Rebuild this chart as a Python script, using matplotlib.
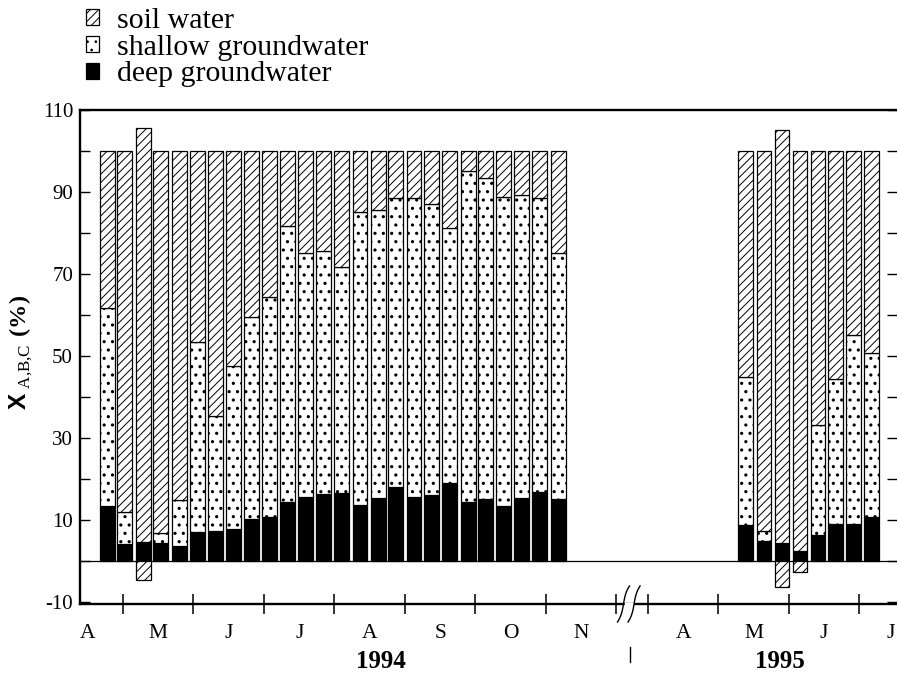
import numpy as np
import matplotlib
matplotlib.use('Agg')
import matplotlib.pyplot as plt
from matplotlib.patches import Patch
from matplotlib import transforms

# sampling times in months after 1 April of each year, and fractions (%)
t_1994 = [0.78, 1.02, 1.29, 1.53, 1.80, 2.06, 2.31, 2.57, 2.82, 3.08, 3.33, 3.59, 3.84,
          4.10, 4.36, 4.62, 4.87, 5.13, 5.38, 5.63, 5.90, 6.14, 6.40, 6.65, 6.91, 7.18]
deep_1994 = [13.5, 4.1, 4.7, 4.4, 3.7, 7.1, 7.4, 7.9, 10.2, 10.6, 14.3, 15.5, 16.3,
             16.5, 13.7, 15.3, 18.1, 15.5, 16.1, 19.0, 14.3, 15.1, 13.5, 15.3, 16.8, 15.1]
shallow_1994 = [48.3, 7.9, -4.7, 2.4, 11.2, 46.3, 27.9, 39.6, 49.4, 53.9, 67.4, 59.5,
                59.3, 55.2, 71.4, 70.3, 70.4, 73.0, 70.9, 62.1, 80.9, 78.4, 75.4, 74.0,
                71.7, 59.9]
soil_1994 = [38.2, 88.0, 100.9, 93.2, 85.1, 46.6, 64.7, 52.5, 40.4, 35.5, 18.3, 25.0,
             24.4, 28.3, 14.9, 14.4, 11.5, 11.5, 13.0, 18.9, 4.8, 6.5, 11.1, 10.7, 11.5, 25.0]

t_1995 = [1.38, 1.645, 1.90, 2.156, 2.41, 2.66, 2.915, 3.17]
deep_1995 = [8.7, 4.9, 4.3, 2.4, 6.3, 9.0, 9.1, 10.7]
shallow_1995 = [36.2, 2.5, -6.4, -2.7, 26.8, 35.3, 46.0, 40.0]
soil_1995 = [55.1, 92.6, 100.9, 97.6, 66.9, 55.7, 44.9, 49.3]

month_labels_1994 = ['A', 'M', 'J', 'J', 'A', 'S', 'O', 'N']
month_labels_1995 = ['A', 'M', 'J', 'J']

plt.rcParams['font.family'] = ['Liberation Serif', 'DejaVu Serif']
plt.rcParams['mathtext.fontset'] = 'custom'
plt.rcParams['mathtext.rm'] = 'Liberation Serif'
plt.rcParams['mathtext.bf'] = 'Liberation Serif:bold'
plt.rcParams['mathtext.sf'] = 'Liberation Sans:bold'
plt.rcParams['axes.unicode_minus'] = False
plt.rcParams['hatch.linewidth'] = 0.7

OFFSET_1995 = 8.447  # axis position of 1 Apr 1995 (axis is broken Dec-Mar)

x = np.array(t_1994 + [OFFSET_1995 + v for v in t_1995])
deep = np.array(deep_1994 + deep_1995)
shallow = np.array(shallow_1994 + shallow_1995)
soil = np.array(soil_1994 + soil_1995)
sh_pos = np.clip(shallow, 0, None)
sh_neg = np.clip(shallow, None, 0)

fig = plt.figure(figsize=(8.97, 6.73), dpi=100)
ax = fig.add_axes([80 / 897, 1 - 604 / 673, 817 / 897, 494 / 673])

w = 0.208
ax.axhline(0, color='black', lw=0.9, zorder=1)
ax.bar(x, deep, w, color='black', edgecolor='black', lw=0.9, zorder=2)
with plt.rc_context({'hatch.linewidth': 1.1}):
    ax.bar(x, sh_pos, w, bottom=deep, color='white', edgecolor='black', lw=0.9,
           hatch='..', zorder=2)
ax.bar(x, soil, w, bottom=deep + sh_pos, color='white', edgecolor='black', lw=0.9,
       hatch='////', zorder=2)
neg = sh_neg < 0
ax.bar(x[neg], sh_neg[neg], w, color='white', edgecolor='black', lw=0.9,
       hatch='////', zorder=2)

ax.set_xlim(0.39, 11.98)
ax.set_ylim(-10.5, 110)

# y axis
ax.set_yticks(np.arange(-10, 111, 20))
ax.set_yticks(np.arange(0, 101, 20), minor=True)
ax.tick_params(axis='y', which='both', direction='in', length=7, width=1.0,
               left=True, right=True, labelsize=15, pad=5)

# x axis: month boundaries as ticks, month initials in between
edges = list(range(1, 9)) + [OFFSET_1995 + k for k in range(4)]
centers = [i + 0.5 for i in range(8)] + [OFFSET_1995 + 0.5 + k for k in range(3)]
centers.append(OFFSET_1995 + 3.44)  # last July label pulled in so it stays on the page
ax.set_xticks(edges)
ax.set_xticklabels([])
ax.set_xticks(centers, minor=True)
ax.set_xticklabels(month_labels_1994 + month_labels_1995, minor=True)
ax.tick_params(axis='x', which='major', direction='inout', length=14, width=1.1)
ax.tick_params(axis='x', which='minor', length=0, pad=14.5, labelsize=15.5)

for s in ['left', 'top', 'bottom']:
    ax.spines[s].set_linewidth(1.7)
ax.spines['right'].set_visible(False)

ax.set_ylabel(r'$\mathsf{X}_{\mathrm{\ A{,}B{,}C}}\ \mathbf{(\%)}$', fontsize=17.5)
ax.yaxis.set_label_coords(-0.055, 0.51)

# year labels
tr = transforms.blended_transform_factory(ax.transData, ax.transAxes)
ax.text(4.66, -0.117, '1994', transform=tr, ha='center', va='center',
        fontsize=18, fontweight='bold')
ax.text(10.32, -0.117, '1995', transform=tr, ha='center', va='center',
        fontsize=18, fontweight='bold')

# axis break marks
s = np.linspace(-1, 1, 40)
for c in [8.10, 8.25]:
    ax.plot(c + (3 * s + 3 * s ** 3) / 70.5, 18 * s / 494, color='black', lw=1.0,
            transform=tr, clip_on=False, zorder=5)
ax.plot([8.13, 8.22], [0, 0], color='white', lw=2.5, transform=tr, clip_on=False, zorder=4)
ax.plot([8.19, 8.19], [-0.087, -0.117], color='black', lw=1.0, transform=tr, clip_on=False)

handles = [Patch(facecolor='white', edgecolor='black', hatch='////', lw=0.9),
           Patch(facecolor='white', edgecolor='black', hatch='..', lw=0.9),
           Patch(facecolor='black', edgecolor='black', lw=0.9)]
fig.legend(handles, ['soil water', 'shallow groundwater', 'deep groundwater'],
           loc='upper left', bbox_to_anchor=(86 / 897, 1 - 8 / 673), frameon=False,
           fontsize=21.5, handlelength=0.42, handleheight=0.45, handletextpad=0.62,
           labelspacing=0.02, borderpad=0, borderaxespad=0)

fig.savefig('out.png', dpi=100)
